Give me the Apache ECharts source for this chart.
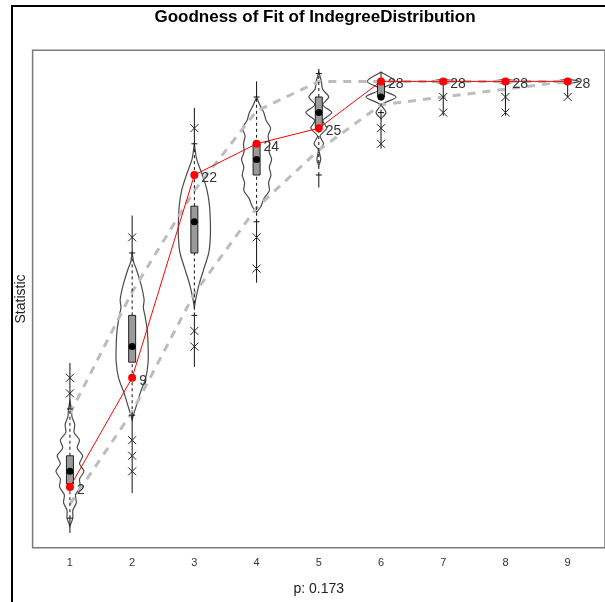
<!DOCTYPE html>
<html>
<head>
<meta charset="utf-8">
<script src="https://cdn.jsdelivr.net/npm/echarts@6/dist/echarts.min.js"></script>
<style>
  html, body { margin: 0; padding: 0; background: #fff; }
  #chart { width: 605px; height: 602px; }
</style>
</head>
<body>
<div id="chart"></div>
<script>
const columns = [1, 2, 3, 4, 5, 6, 7, 8, 9];
const observed = [2, 9, 22, 24, 25, 28, 28, 28, 28];
const upperBound = [6.7, 14.5, 21, 26.1, 28, 28, 28, 28, 28];
const lowerBound = [0.9, 6.8, 14.4, 19.9, 23.6, 26.5, 27, 27.5, 28];

// per column: [lineMin, whiskerLow, q1, median, q3, whiskerHigh, lineMax]
const boxStats = [
  [-0.95, 0, 2.2, 3, 4, 7, 9.95],
  [1.6, 6.6, 10, 11, 13, 17, 19.4],
  [9.7, 13, 17, 19, 20, 24, 26.3],
  [15.1, 19, 22, 23, 24, 27, 28],
  [21.2, 22, 25.1, 26, 27, 28.5, 28.8],
  [23.7, 26, 27, 27, 27.9, 28, 28.6],
  [25.8, 28, 28, 28, 28, 28, 28],
  [25.8, 28, 28, 28, 28, 28, 28],
  [27, 28, 28, 28, 28, 28, 28],
];

const outliers = [
  [8, 9], [18, 5, 4, 3], [25, 12, 11], [18, 16], [], [25, 24], [27, 26], [27, 26], [27],
];

// violin outlines: [statistic, relative density]
const violinProfiles = [
  [[7.5, 0], [7, 0.09], [6.5, 0.13], [6, 0.3], [5.5, 0.26], [5, 0.6], [4.5, 0.45], [4, 0.8], [3.5, 0.6], [3, 0.875], [2.5, 0.6], [2, 0.65], [1.5, 0.35], [1, 0.4], [0.5, 0.18], [0, 0.18], [-0.5, 0]],
  [[17, 0], [16.4, 0.1], [16, 0.25], [15, 0.55], [14, 0.75], [13.5, 0.7], [13, 0.8], [12, 0.95], [11, 1], [10, 1], [9, 0.85], [8, 0.5], [7, 0.2], [6.5, 0.05], [6.3, 0]],
  [[24, 0], [23, 0.15], [22, 0.5], [21, 0.8], [20, 0.95], [19, 1], [18, 1], [17, 0.9], [16, 0.6], [15, 0.3], [14, 0.08], [13.5, 0]],
  [[27, 0], [26.5, 0.2], [26, 0.45], [25.5, 0.6], [25, 0.88], [24.5, 0.72], [24, 0.82], [23.5, 0.78], [23, 0.94], [22.5, 0.8], [22, 0.9], [21.5, 0.75], [21, 0.8], [20.5, 0.47], [20, 0.28], [19.6, 0]],
  [[28.6, 0], [28, 0.16], [27.5, 0.24], [27, 0.62], [26.5, 0.25], [26, 0.81], [25.5, 0.25], [25, 0.5], [24.5, 0.08], [24, 0.3], [23.6, 0.03], [23, 0.12], [22.6, 0]],
  [[28.6, 0], [28, 0.87], [27.5, 0.05], [27, 0.94], [26.5, 0.05], [26, 0.31], [25.6, 0]],
  [[28.15, 0], [28, 0.75], [27.85, 0]],
  [[28.15, 0], [28, 0.75], [27.85, 0]],
  [[28.15, 0], [28, 0.75], [27.85, 0]],
];

const violinHalfWidth = 0.2565; // x units for density 1
const fontFamily = '"Liberation Sans", Arial, sans-serif';

let chartDom = document.getElementById('chart');
let myChart = echarts.init(chartDom);
let option;

let outlierData = [];
outliers.forEach((list, i) => {
  list.forEach((v) => outlierData.push([columns[i], v]));
});

option = {
  animation: false,
  grid: {
    left: 32.6,
    right: -1.4,
    top: 50.2,
    bottom: 54.2,
    show: true,
    borderColor: '#7a7a7a',
    borderWidth: 1.5,
    backgroundColor: 'transparent',
  },
  xAxis: {
    type: 'value',
    min: 0.4,
    max: 9.6,
    name: 'p: 0.173',
    nameLocation: 'middle',
    nameGap: 34,
    nameTextStyle: { color: '#222', fontSize: 14, fontFamily },
    axisLine: { show: false },
    axisTick: { show: false },
    splitLine: { show: false },
    axisLabel: {
      customValues: columns,
      color: '#333',
      fontSize: 11,
      margin: 10,
      fontFamily,
    },
  },
  yAxis: {
    type: 'value',
    min: -1.9,
    max: 30,
    name: 'Statistic',
    nameLocation: 'middle',
    nameGap: 4,
    nameTextStyle: { color: '#222', fontSize: 14, fontFamily },
    axisLine: { show: false },
    axisTick: { show: false },
    axisLabel: { show: false },
    splitLine: { show: false },
  },
  graphic: [
    {
      type: 'rect',
      shape: { x: 12, y: 6, width: 1000, height: 1000 },
      style: { fill: 'none', stroke: '#000', lineWidth: 2 },
      silent: true,
    },
    {
      type: 'text',
      x: 315,
      y: 17,
      style: {
        text: 'Goodness of Fit of IndegreeDistribution',
        font: 'bold 17px ' + fontFamily,
        fill: '#000',
        textAlign: 'center',
        textVerticalAlign: 'middle',
      },
    },
  ],
  series: [
    {
      name: 'violin',
      type: 'custom',
      data: columns.map((c) => [c]),
      z: 1,
      renderItem(params, api) {
        const i = params.dataIndex;
        const x = columns[i];
        const prof = violinProfiles[i];
        const pts = [];
        prof.forEach(([v, d]) => pts.push(api.coord([x + d * violinHalfWidth, v])));
        for (let k = prof.length - 1; k >= 0; k--) {
          pts.push(api.coord([x - prof[k][1] * violinHalfWidth, prof[k][0]]));
        }
        return {
          type: 'polygon',
          shape: { points: pts, smooth: 0.3 },
          style: { fill: 'none', stroke: '#4a4a4a', lineWidth: 1.2 },
        };
      },
    },
    {
      name: 'upper',
      type: 'line',
      data: columns.map((c, i) => [c, upperBound[i]]),
      symbol: 'none',
      z: 2,
      lineStyle: { color: '#bdbdbd', width: 3, type: [8, 7] },
    },
    {
      name: 'lower',
      type: 'line',
      data: columns.map((c, i) => [c, lowerBound[i]]),
      symbol: 'none',
      z: 2,
      lineStyle: { color: '#bdbdbd', width: 3, type: [8, 7] },
    },
    {
      name: 'box',
      type: 'custom',
      data: columns.map((c) => [c]),
      z: 3,
      renderItem(params, api) {
        const i = params.dataIndex;
        const x = columns[i];
        const [lo, wl, q1, med, q3, wh, hi] = boxStats[i];
        const cx = api.coord([x, med])[0];
        const y = (v) => api.coord([x, v])[1];
        const seg = (a, b, dashed) => ({
          type: 'line',
          shape: { x1: cx, y1: y(a), x2: cx, y2: y(b) },
          style: { stroke: '#111', lineWidth: 1, lineDash: dashed ? [3, 3] : null },
        });
        const cap = (v) => ({
          type: 'line',
          shape: { x1: cx - 3, y1: y(v), x2: cx + 3, y2: y(v) },
          style: { stroke: '#111', lineWidth: 1 },
        });
        const children = [seg(lo, wl, false), seg(wh, hi, false), seg(wl, q1, true), seg(q3, wh, true), cap(wl), cap(wh)];
        children.push({
          type: 'rect',
          shape: { x: cx - 3.5, y: y(q3), width: 7, height: y(q1) - y(q3) },
          style: { fill: '#9a9a9a', stroke: '#222', lineWidth: 1 },
        });
        children.push({
          type: 'circle',
          shape: { cx: cx, cy: y(med), r: 3.5 },
          style: { fill: '#000' },
        });
        return { type: 'group', children };
      },
    },
    {
      name: 'outliers',
      type: 'custom',
      data: outlierData,
      z: 3,
      renderItem(params, api) {
        const p = api.coord([api.value(0), api.value(1)]);
        const s = 4;
        return {
          type: 'group',
          children: [
            { type: 'line', shape: { x1: p[0] - s, y1: p[1] - s, x2: p[0] + s, y2: p[1] + s }, style: { stroke: '#222', lineWidth: 1 } },
            { type: 'line', shape: { x1: p[0] - s, y1: p[1] + s, x2: p[0] + s, y2: p[1] - s }, style: { stroke: '#222', lineWidth: 1 } },
          ],
        };
      },
    },
    {
      name: 'observed',
      type: 'line',
      data: columns.map((c, i) => [c, observed[i]]),
      z: 5,
      symbol: 'circle',
      symbolSize: 8,
      itemStyle: { color: '#ff0000' },
      lineStyle: { color: '#ff0000', width: 1 },
      label: {
        show: true,
        position: 'right',
        distance: 3,
        offset: [0, 3],
        formatter: (p) => String(p.value[1]),
        color: '#333',
        fontSize: 14,
        fontFamily,
      },
    },
  ],
};

option && myChart.setOption(option);
</script>
</body>
</html>
